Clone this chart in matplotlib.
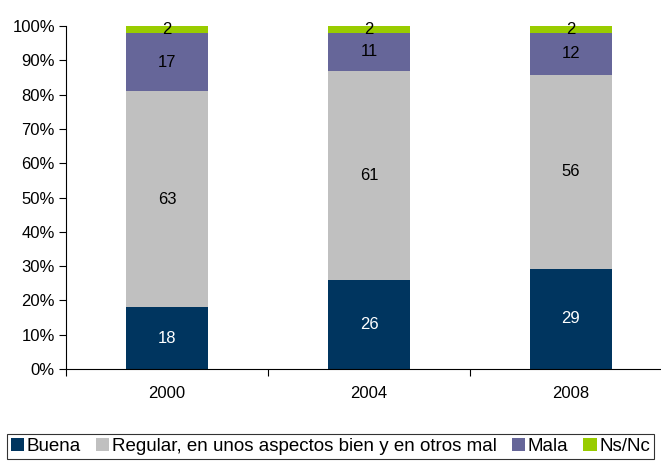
import numpy as np
import matplotlib
matplotlib.use('Agg')
import matplotlib.pyplot as plt
from matplotlib.ticker import FuncFormatter

plt.rcParams['font.family'] = ['Liberation Sans', 'DejaVu Sans']

years = ['2000', '2004', '2008']
buena = [18, 26, 29]
regular = [63, 61, 56]
mala = [17, 11, 12]
nsnc = [2, 2, 2]

series = [
    ('Buena', buena, '#00355f', 'white'),
    ('Regular, en unos aspectos bien y en otros mal', regular, '#c0c0c0', 'black'),
    ('Mala', mala, '#666699', 'black'),
    ('Ns/Nc', nsnc, '#99cc00', 'black'),
]

totals = np.array(buena) + np.array(regular) + np.array(mala) + np.array(nsnc)

fig = plt.figure(figsize=(6.61, 4.63), dpi=100)
# axis runs past the right edge of the picture, as in the original
ax = fig.add_axes([66 / 661, 1 - 369 / 463, 606 / 661, 343 / 463])

x = np.arange(len(years))
bottom = np.zeros(len(years))
handles = []
for name, vals, color, tcolor in series:
    share = np.array(vals) / totals * 100
    bars = ax.bar(x, share, width=0.405, bottom=bottom, color=color, label=name)
    handles.append(bars)
    for xi, b, s, v in zip(x, bottom, share, vals):
        ax.text(xi, b + s / 2, str(v), ha='center', va='center', fontsize=12, color=tcolor)
    bottom += share

ax.set_ylim(0, 100)
ax.set_xlim(-0.5, 2.5)
ax.set_yticks(np.arange(0, 101, 10))
ax.yaxis.set_major_formatter(FuncFormatter(lambda v, p: f'{v:.0f}%'))
ax.set_xticks([-0.5, 0.5, 1.5, 2.5])
ax.set_xticklabels([])
ax.set_xticks(x, minor=True)
ax.set_xticklabels(years, minor=True)
ax.tick_params(axis='x', which='major', length=5, direction='out')
ax.tick_params(axis='x', which='minor', length=0, pad=12, labelsize=12)
ax.tick_params(axis='y', length=5, direction='out', labelsize=12, pad=3)
for s in ['top', 'right']:
    ax.spines[s].set_visible(False)
for s in ['left', 'bottom']:
    ax.spines[s].set_color('black')

leg = fig.legend(handles=handles, loc='center', bbox_to_anchor=(330.5 / 661, 1 - 446.5 / 463),
                 ncol=4, frameon=True, fancybox=False, edgecolor='black', fontsize=13.5,
                 handlelength=0.7, handleheight=0.7, handletextpad=0.15, columnspacing=0.8,
                 borderpad=0.2, borderaxespad=0)
leg.get_frame().set_linewidth(0.8)

fig.savefig('out.png', dpi=100)
